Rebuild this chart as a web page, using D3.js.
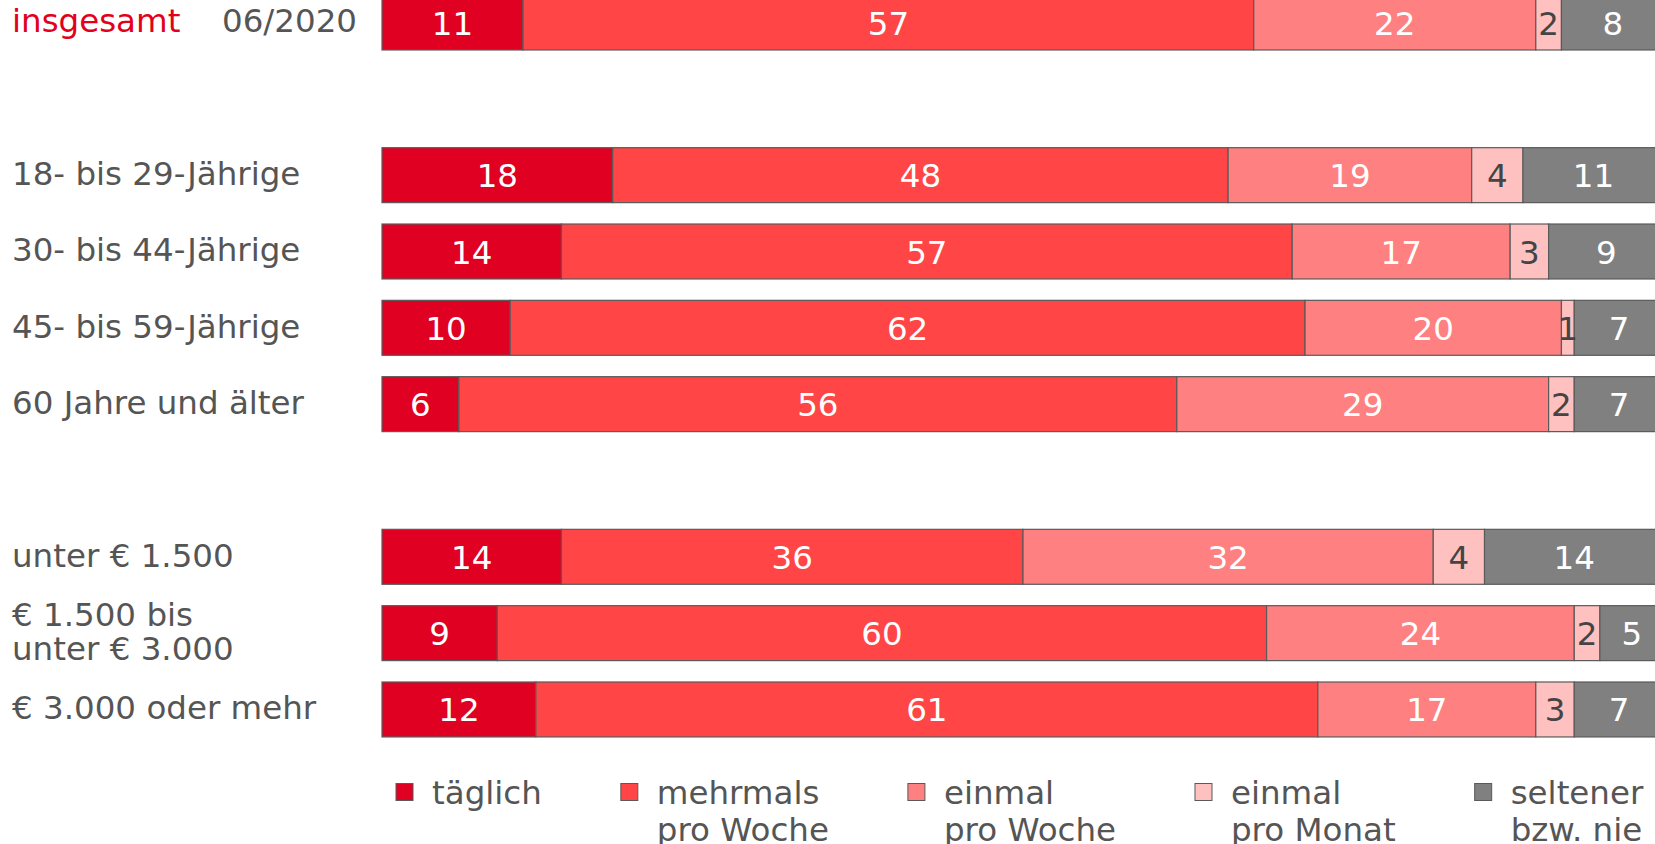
<!DOCTYPE html>
<html>
<head>
<meta charset="utf-8">
<script src="https://cdn.jsdelivr.net/npm/d3@7"></script>
<style>
  html, body { margin: 0; padding: 0; background: #fff; overflow: hidden; }
  svg { display: block; font-family: "DejaVu Sans", Verdana, sans-serif; }
</style>
</head>
<body>
<div id="chart"></div>
<script>
// categories (rows) in three groups
const totalRows = ["insgesamt"];
const ageRows = ["18- bis 29-Jährige", "30- bis 44-Jährige", "45- bis 59-Jährige", "60 Jahre und älter"];
const incomeRows = ["unter € 1.500", "€ 1.500 bis|unter € 3.000", "€ 3.000 oder mehr"];

// series
const series = ["täglich", "mehrmals|pro Woche", "einmal|pro Woche", "einmal|pro Monat", "seltener|bzw. nie"];
const colors = ["#e00022", "#ff4545", "#ff8080", "#ffc0c0", "#808080"];

// values in %, one array per series, same order as rows
const taeglich  = [11, 18, 14, 10,  6, 14,  9, 12];
const mehrmals  = [57, 48, 57, 62, 56, 36, 60, 61];
const einmalWo  = [22, 19, 17, 20, 29, 32, 24, 17];
const einmalMo  = [ 2,  4,  3,  1,  2,  4,  2,  3];
const seltener  = [ 8, 11,  9,  7,  7, 14,  5,  7];

const dateLabel = "06/2020";

const W = 1655, H = 844;
const svg = d3.select("#chart").append("svg")
  .attr("width", W).attr("height", H);

const rows = totalRows.concat(ageRows, incomeRows);
const valueCols = [taeglich, mehrmals, einmalWo, einmalMo, seltener];
const data = rows.map((r, i) => {
  let x0 = 0;
  return { row: r, segs: valueCols.map((col, s) => {
    const seg = { s: s, v: col[i], x0: x0, x1: x0 + col[i] };
    x0 += col[i];
    return seg;
  })};
});

// band domain with one spacer slot between groups
const slots = totalRows.concat(["_gap1"], ageRows, ["_gap2"], incomeRows);
const step = 76.33;
const y = d3.scaleBand()
  .domain(slots)
  .range([22.5 - step / 2, 22.5 - step / 2 + step * slots.length])
  .paddingInner(0.28)
  .paddingOuter(0.14);

const x = d3.scaleLinear().domain([0, 100]).range([382, 1664]);

const fs = 32.5;

// bars
const rowG = svg.selectAll("g.row")
  .data(data)
  .enter().append("g")
  .attr("class", "row")
  .attr("transform", d => `translate(0, ${y(d.row)})`);

rowG.selectAll("rect")
  .data(d => d.segs)
  .enter().append("rect")
  .attr("x", d => x(d.x0))
  .attr("y", 0)
  .attr("width", d => x(d.x1) - x(d.x0))
  .attr("height", y.bandwidth())
  .attr("fill", d => colors[d.s])
  .attr("stroke", "#5a5a5a")
  .attr("stroke-width", 1.2);

rowG.selectAll("text.val")
  .data(d => d.segs)
  .enter().append("text")
  .attr("class", "val")
  .attr("x", d => (x(d.x0) + x(d.x1)) / 2)
  .attr("y", y.bandwidth() / 2)
  .attr("dy", "0.37em")
  .attr("text-anchor", "middle")
  .style("font-size", fs + "px")
  .attr("fill", d => d.s === 3 ? "#444" : "#fff")
  .text(d => d.v);

// row labels
svg.selectAll("text.lab")
  .data(rows)
  .enter().append("text")
  .attr("class", "lab")
  .attr("x", 12)
  .attr("y", d => y(d) + y.bandwidth() / 2)
  .style("font-size", fs + "px")
  .attr("fill", d => d === "insgesamt" ? "#e2001a" : "#555")
  .each(function(d) {
    const lines = d.split("|");
    const t = d3.select(this);
    lines.forEach((l, i) => {
      t.append("tspan")
        .attr("x", 12)
        .attr("dy", i === 0 ? (0.3 - (lines.length - 1) * 0.52) + "em" : "1.04em")
        .text(l);
    });
  });

svg.append("text")
  .attr("x", 357)
  .attr("y", y("insgesamt") + y.bandwidth() / 2)
  .attr("dy", "0.3em")
  .attr("text-anchor", "end")
  .style("font-size", fs + "px")
  .attr("fill", "#555")
  .text(dateLabel);

// legend
const legend = svg.append("g").attr("transform", "translate(396, 792)");
let lx = 0;
series.forEach((s, i) => {
  const g = legend.append("g").attr("transform", `translate(${lx}, 0)`);
  g.append("rect")
    .attr("x", 0).attr("y", -8.5)
    .attr("width", 17).attr("height", 17)
    .attr("fill", colors[i])
    .attr("stroke", "#5a5a5a").attr("stroke-width", 1);
  const t = g.append("text")
    .attr("x", 36).attr("y", 0)
    .style("font-size", fs + "px")
    .attr("fill", "#555");
  s.split("|").forEach((l, j) => {
    t.append("tspan").attr("x", 36).attr("dy", j === 0 ? "0.36em" : "1.14em").text(l);
  });
  lx += 36 + t.node().getBBox().width + 79;
});
</script>
</body>
</html>
